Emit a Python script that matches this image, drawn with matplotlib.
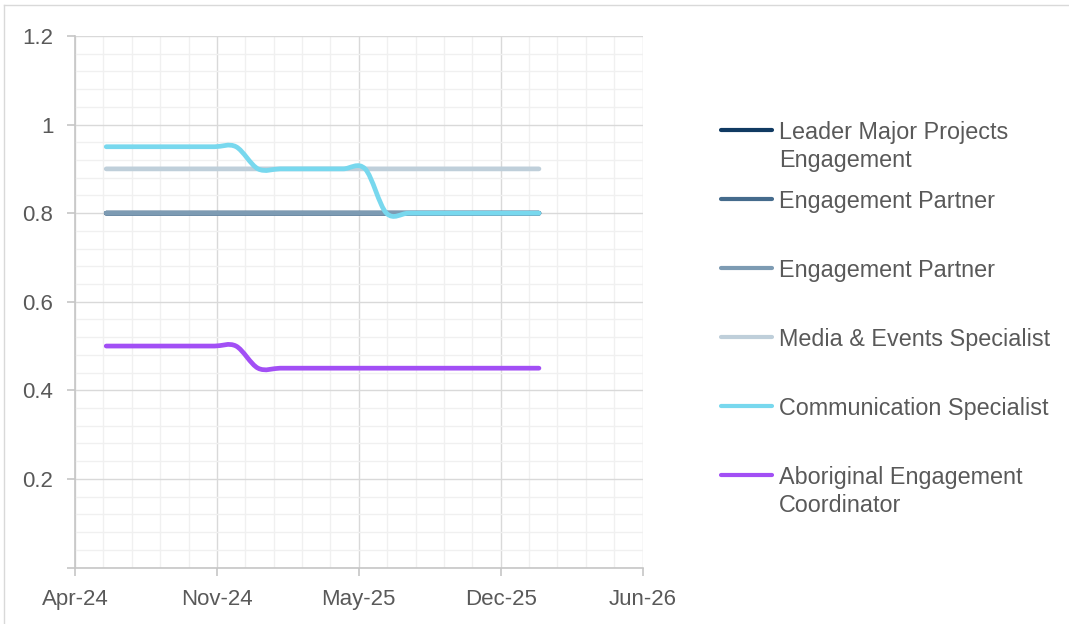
import datetime as dt

import matplotlib.pyplot as plt
import matplotlib.dates as mdates
import numpy as np
from matplotlib.lines import Line2D
from matplotlib.patches import PathPatch
from matplotlib.path import Path
from matplotlib.ticker import FixedLocator, FuncFormatter

plt.rcParams['font.family'] = ['Liberation Sans', 'DejaVu Sans']

# monthly FTE allocation per role
months = ['2024-06', '2024-07', '2024-08', '2024-09', '2024-10', '2024-11', '2024-12',
          '2025-01', '2025-02', '2025-03', '2025-04', '2025-05', '2025-06', '2025-07',
          '2025-08', '2025-09', '2025-10', '2025-11', '2025-12', '2026-01', '2026-02']

leader_major = [0.8, 0.8, 0.8, 0.8, 0.8, 0.8, 0.8, 0.8, 0.8, 0.8, 0.8,
                0.8, 0.8, 0.8, 0.8, 0.8, 0.8, 0.8, 0.8, 0.8, 0.8]
partner_a = [0.8, 0.8, 0.8, 0.8, 0.8, 0.8, 0.8, 0.8, 0.8, 0.8, 0.8,
             0.8, 0.8, 0.8, 0.8, 0.8, 0.8, 0.8, 0.8, 0.8, 0.8]
partner_b = [0.8, 0.8, 0.8, 0.8, 0.8, 0.8, 0.8, 0.8, 0.8, 0.8, 0.8,
             0.8, 0.8, 0.8, 0.8, 0.8, 0.8, 0.8, 0.8, 0.8, 0.8]
media_events = [0.9, 0.9, 0.9, 0.9, 0.9, 0.9, 0.9, 0.9, 0.9, 0.9, 0.9,
                0.9, 0.9, 0.9, 0.9, 0.9, 0.9, 0.9, 0.9, 0.9, 0.9]
communication = [0.95, 0.95, 0.95, 0.95, 0.95, 0.95, 0.95, 0.9, 0.9, 0.9, 0.9,
                 0.9, 0.9, 0.8, 0.8, 0.8, 0.8, 0.8, 0.8, 0.8, 0.8]
aboriginal = [0.5, 0.5, 0.5, 0.5, 0.5, 0.5, 0.5, 0.45, 0.45, 0.45, 0.45,
              0.45, 0.45, 0.45, 0.45, 0.45, 0.45, 0.45, 0.45, 0.45, 0.45]

labels = ['Leader Major Projects\nEngagement', 'Engagement Partner', 'Engagement Partner',
          'Media & Events Specialist', 'Communication Specialist',
          'Aboriginal Engagement\nCoordinator']
colors = ['#103a62', '#456b8c', '#7d9bb3', '#bfcfda', '#78d8ee', '#a24ff5']

# axis runs on 200-day major / 40-day minor steps like a spreadsheet date axis
x_start = dt.date(2024, 4, 18)
x_end = dt.date(2026, 6, 27)


def smooth_path(x, y):
    """Cardinal-spline bezier through the points (spreadsheet 'smoothed line')."""
    pts = np.column_stack([x, y])
    n = len(pts)
    verts = [pts[0]]
    codes = [Path.MOVETO]
    for i in range(n - 1):
        p0 = pts[i - 1] if i > 0 else pts[i]
        p1, p2 = pts[i], pts[i + 1]
        p3 = pts[i + 2] if i + 2 < n else pts[i + 1]
        verts += [p1 + (p2 - p0) / 6, p2 - (p3 - p1) / 6, p2]
        codes += [Path.CURVE4] * 3
    return Path(verts, codes)


W, H, DPI = 1069, 624, 100
fig = plt.figure(figsize=(W / DPI, H / DPI), dpi=DPI)
ax = fig.add_axes([75 / W, (H - 567.5) / H, 567.5 / W, 531.5 / H])

xs = mdates.date2num([dt.datetime.strptime(m, '%Y-%m') for m in months])
series = [leader_major, partner_a, partner_b, media_events, communication, aboriginal]
for vals, col in zip(series, colors):
    patch = PathPatch(smooth_path(xs, vals), fill=False, edgecolor=col, lw=3.4,
                      capstyle='round', joinstyle='round', zorder=3)
    ax.add_patch(patch)

x0 = mdates.date2num(x_start)
x1 = mdates.date2num(x_end)
ax.set_xlim(x0, x1)
ax.set_ylim(0, 1.2)

ax.xaxis.set_major_locator(FixedLocator(np.arange(x0, x1 + 1, 200)))
ax.xaxis.set_minor_locator(FixedLocator(np.arange(x0, x1 + 1, 40)))
ax.xaxis.set_major_formatter(mdates.DateFormatter('%b-%y'))
ax.yaxis.set_major_locator(FixedLocator(np.arange(0, 1.21, 0.2)))
ax.yaxis.set_minor_locator(FixedLocator(np.arange(0, 1.21, 0.04)))
ax.yaxis.set_major_formatter(FuncFormatter(lambda v, p: '' if v < 1e-9 else f'{v:g}'))

ax.grid(which='major', color='#d9d9d9', lw=1.0, zorder=1)
ax.grid(which='minor', color='#f0f0f0', lw=1.0, zorder=0)
ax.set_axisbelow(True)
for side in ['top', 'right']:
    ax.spines[side].set_visible(False)
for side in ['left', 'bottom']:
    ax.spines[side].set_color('#c6c6c6')
    ax.spines[side].set_linewidth(1.2)
ax.tick_params(which='major', length=5.5, width=1.2, color='#c6c6c6',
               labelcolor='#595959', labelsize=16)
ax.tick_params(axis='x', which='major', pad=10)
ax.tick_params(axis='y', which='major', pad=10)
ax.tick_params(which='minor', length=0)

# legend on the right, drawn entry by entry
legend_y = [130, 199, 268, 337, 406, 475]
for lab, col, ly in zip(labels, colors, legend_y):
    yf = (H - ly) / H
    fig.add_artist(Line2D([721 / W, 772 / W], [yf, yf], color=col, lw=3.0,
                          solid_capstyle='round'))
    for k, line in enumerate(lab.split('\n')):
        fig.text(779 / W, (H - ly - 28 * k) / H, line, color='#595959', fontsize=16.8,
                 va='center_baseline', ha='left')

# chart frame edges
fig.add_artist(Line2D([4 / W, 1], [(H - 5) / H, (H - 5) / H], color='#d9d9d9', lw=1.0))
fig.add_artist(Line2D([4 / W, 4 / W], [0, (H - 5) / H], color='#d9d9d9', lw=1.0))

fig.savefig('out.png', dpi=DPI)
